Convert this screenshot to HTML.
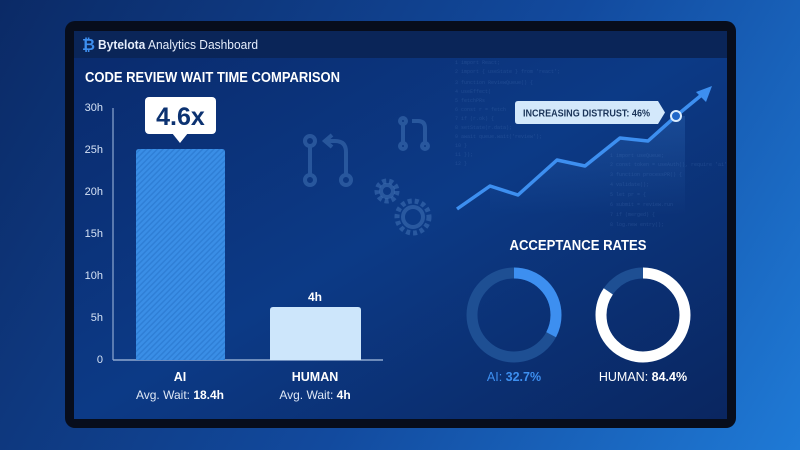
<!DOCTYPE html>
<html><head><meta charset="utf-8"><style>
html,body{margin:0;padding:0;width:800px;height:450px;overflow:hidden;}
body{background:linear-gradient(120deg,#0b2a66 0%,#124a9e 55%,#1f7ad6 100%);font-family:"Liberation Sans",sans-serif;}
</style></head><body>
<svg width="800" height="450" viewBox="0 0 800 450" xmlns="http://www.w3.org/2000/svg" style="position:absolute;left:0;top:0">
<defs>
<linearGradient id="scr" x1="0" y1="0" x2="1" y2="1">
<stop offset="0" stop-color="#0a2a6c"/><stop offset="0.5" stop-color="#0c3a86"/><stop offset="1" stop-color="#0a2660"/>
</linearGradient>
<pattern id="hatch" width="4" height="4" patternUnits="userSpaceOnUse" patternTransform="rotate(45)">
<rect width="4" height="4" fill="#3a8ee6"/><rect width="1.5" height="4" fill="#2f7fd6"/>
</pattern>
<linearGradient id="area" x1="0" y1="0" x2="0" y2="1"><stop offset="0" stop-color="#4a90e2" stop-opacity="0.35"/><stop offset="1" stop-color="#4a90e2" stop-opacity="0"/></linearGradient>
</defs>
<rect x="65" y="21" width="671" height="407" rx="10" fill="#070d1c"/>
<rect x="74" y="31" width="653" height="388" fill="url(#scr)"/>
<rect x="74" y="31" width="653" height="27" fill="#0a2558"/>
<text x="82" y="50" font-size="16" font-weight="bold" fill="#3d8ff0">₿</text>
<text x="98" y="49" font-size="13" fill="#e6eefc" textLength="160" lengthAdjust="spacingAndGlyphs"><tspan font-weight="bold">Bytelota</tspan> Analytics Dashboard</text>
<text x="85" y="82" font-size="14.5" font-weight="bold" fill="#ffffff" textLength="255" lengthAdjust="spacingAndGlyphs">CODE REVIEW WAIT TIME COMPARISON</text>
<!-- faint code -->
<g fill="#5b84c4" opacity="0.25" font-family="Liberation Mono" font-size="5">
<text x="455" y="64">1  import React;</text><text x="455" y="73">2  import { useState } from 'react';</text>
<text x="455" y="84">3  function ReviewQueue() {</text><text x="455" y="93">4    useEffect(</text><text x="455" y="102">5    fetchPRs</text>
<text x="455" y="111">6      const r = fetch</text><text x="455" y="120">7      if (r.ok) {</text><text x="455" y="129">8        setState(r.data);</text>
<text x="455" y="138">9        await queue.wait('review');</text><text x="455" y="147">10     }</text><text x="455" y="156">11   });</text><text x="455" y="165">12 }</text>
<text x="610" y="157">1  import useQueue;</text><text x="610" y="166">2  const token = useAuth(), require 'ai'</text>
<text x="610" y="176">3  function processPR() {</text><text x="610" y="186">4    validate();</text><text x="610" y="196">5    let pr = {</text>
<text x="610" y="206">6      submit = review.run</text><text x="610" y="216">7      if (merged) {</text><text x="610" y="226">8        log.new entry();</text>
</g>
<!-- icons -->
<g stroke="#4d7fc0" stroke-width="4" fill="none" opacity="0.45">
<circle cx="310" cy="141" r="5"/><circle cx="310" cy="180" r="5"/><line x1="310" y1="146" x2="310" y2="175"/>
<circle cx="346" cy="180" r="5"/><path d="M346 175 V152 Q346 141 335 141 H326"/><path d="M332 135 L325 141 L332 147"/>
<circle cx="403" cy="121" r="3"/><circle cx="403" cy="146" r="3"/><line x1="403" y1="124" x2="403" y2="143"/>
<circle cx="425" cy="146" r="3"/><path d="M425 143 V128 Q425 121 418 121 H412"/>
<circle cx="387" cy="191" r="6"/><circle cx="413" cy="217" r="10"/>
</g>
<g stroke="#4d7fc0" stroke-width="5" stroke-dasharray="4 3" fill="none" opacity="0.45">
<circle cx="387" cy="191" r="10"/><circle cx="413" cy="217" r="16"/>
</g>
<!-- axis -->
<g font-size="11" fill="#d5e2f5" text-anchor="end">
<text x="103" y="111">30h</text><text x="103" y="153">25h</text><text x="103" y="195">20h</text><text x="103" y="237">15h</text><text x="103" y="279">10h</text><text x="103" y="321">5h</text><text x="103" y="363">0</text>
</g>
<line x1="113" y1="108" x2="113" y2="360" stroke="#8ea8d0" stroke-width="1.2"/>
<line x1="113" y1="360" x2="383" y2="360" stroke="#8ea8d0" stroke-width="1.5"/>
<path d="M136 360 V152 Q136 149 139 149 H222 Q225 149 225 152 V360 Z" fill="url(#hatch)"/>
<path d="M270 360 V310 Q270 307 273 307 H358 Q361 307 361 310 V360 Z" fill="#cde6fb"/>
<rect x="145" y="97" width="71" height="37" rx="4" fill="#ffffff"/>
<path d="M172 133 L180 143 L188 133 Z" fill="#ffffff"/>
<text x="180.5" y="125" font-size="25" font-weight="bold" fill="#0c3271" text-anchor="middle">4.6x</text>
<text x="315" y="301" font-size="12" font-weight="bold" fill="#fff" text-anchor="middle">4h</text>
<g text-anchor="middle" fill="#fff">
<text x="180" y="381" font-size="12.5" font-weight="bold">AI</text>
<text x="180" y="399" font-size="12" fill="#dfe8f6">Avg. Wait: <tspan font-weight="bold" fill="#fff">18.4h</tspan></text>
<text x="315" y="381" font-size="12.5" font-weight="bold">HUMAN</text>
<text x="315" y="399" font-size="12" fill="#dfe8f6">Avg. Wait: <tspan font-weight="bold" fill="#fff">4h</tspan></text>
</g>
<!-- line chart -->
<path d="M490 186 L518 195 L557 160 L585 166 L620 138 L648 141 L676 116 L685 116 L685 215 L490 215 Z" fill="url(#area)" opacity="0.6"/>
<polyline points="457,209 490,186 518,195 557,160 585,166 620,138 648,141 676,116 704,93" fill="none" stroke="#3d8ff0" stroke-width="3.5" stroke-linejoin="round"/>
<path d="M712 86 L696 92 L706 102 Z" fill="#3d8ff0"/>
<circle cx="676" cy="116" r="5" fill="#1f66c8" stroke="#d9ecff" stroke-width="2"/>
<path d="M518 101 H658 L665 112.5 L658 124 H518 Q515 124 515 121 V104 Q515 101 518 101 Z" fill="#d3e8fb"/>
<text x="523" y="116.5" font-size="10.5" font-weight="bold" fill="#1a3358" textLength="127" lengthAdjust="spacingAndGlyphs">INCREASING DISTRUST: 46%</text>
<!-- donuts -->
<text x="578" y="250" font-size="14.5" font-weight="bold" fill="#fff" text-anchor="middle" textLength="137" lengthAdjust="spacingAndGlyphs">ACCEPTANCE RATES</text>
<circle cx="514" cy="315" r="42" fill="none" stroke="#1e4f93" stroke-width="11"/>
<circle cx="514" cy="315" r="42" fill="none" stroke="#3d8ff0" stroke-width="11" stroke-dasharray="86.3 300" transform="rotate(-90 514 315)"/>
<circle cx="643" cy="315" r="42" fill="none" stroke="#1e4f93" stroke-width="11"/>
<circle cx="643" cy="315" r="42" fill="none" stroke="#ffffff" stroke-width="11" stroke-dasharray="222.7 300" transform="rotate(-90 643 315)"/>
<text x="514" y="381" font-size="12.5" fill="#3d8ff0" text-anchor="middle">AI: <tspan font-weight="bold">32.7%</tspan></text>
<text x="643" y="381" font-size="12.5" fill="#fff" text-anchor="middle">HUMAN: <tspan font-weight="bold">84.4%</tspan></text>
</svg>
</body></html>
